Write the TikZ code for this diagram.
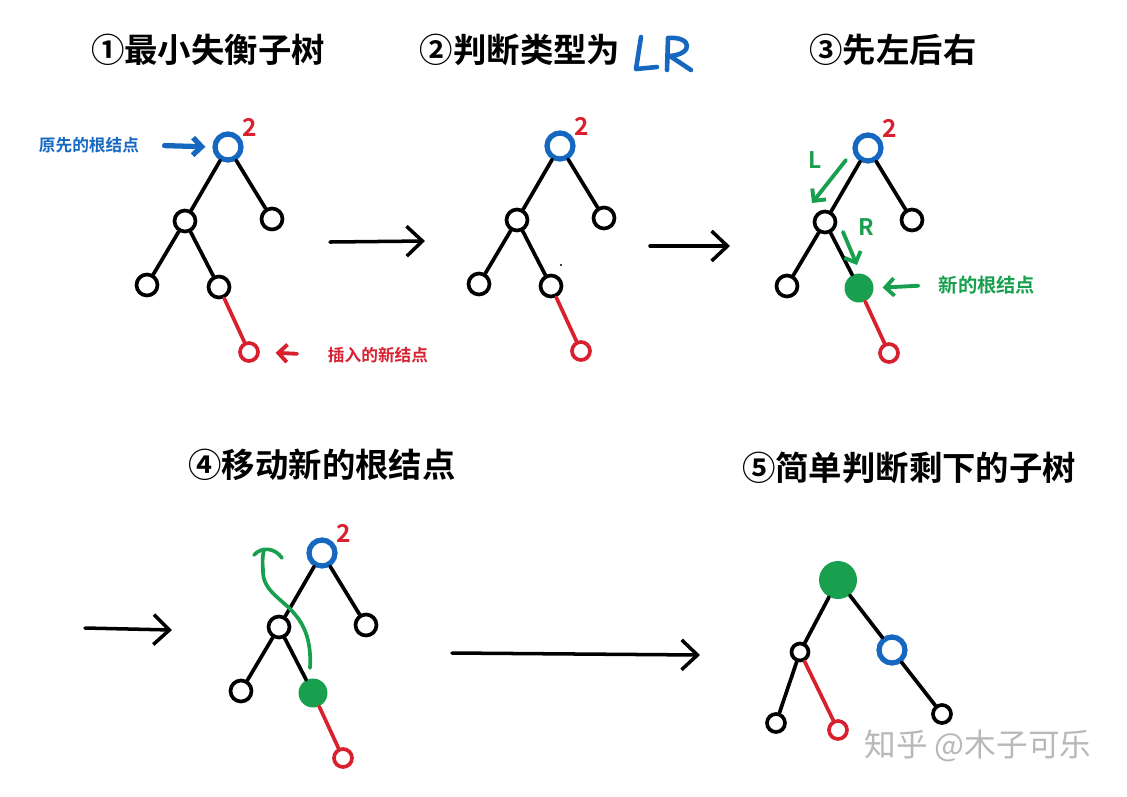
\documentclass[tikz,border=0pt]{standalone}
\usepackage{fontspec}
\setmainfont{Noto Sans CJK SC}[BoldFont={* Bold}]
\usetikzlibrary{arrows.meta}
\definecolor{rootblue}{HTML}{1567C0}
\definecolor{insred}{HTML}{D8202F}
\definecolor{newgreen}{HTML}{19A04E}
\definecolor{markgray}{HTML}{B8B8B8}

\begin{document}
\begin{tikzpicture}[x=0.02cm,y=-0.02cm,
  nd/.style={circle,draw=black,line width=2.1pt,inner sep=0pt,minimum size=0.42cm},
  oldroot/.style={nd,draw=rootblue,line width=3pt,minimum size=0.52cm},
  insnd/.style={nd,draw=insred,minimum size=0.36cm},
  newroot/.style={circle,fill=newgreen,inner sep=0pt,minimum size=0.58cm},
  edge/.style={black,line width=2.1pt,line cap=round},
  insedge/.style={edge,insred},
  bigarrow/.style={line width=2pt,line cap=round,-{Straight Barb[length=9pt,width=17pt]}},
  notearrow/.style={line width=2.2pt,line cap=round,-{Straight Barb[length=5pt,width=10pt]}},
  title/.style={font=\fontsize{19}{21}\selectfont\bfseries},
  note/.style={font=\fontsize{9.5}{11}\selectfont\bfseries},
  bal/.style={insred,inner sep=0pt,font=\fontsize{14}{14}\selectfont\bfseries},
  hand/.style={newgreen,inner sep=0pt,font=\fontsize{13}{13}\selectfont\bfseries}]
  \useasboundingbox (0,0) rectangle (1127,796);

  \node[title] (T1) at (208,50)  {①最小失衡子树};
  \node[title] (T2) at (520,50)  {②判断类型为};
  \node[title] (T3) at (893,50)  {③先左后右};
  \node[title] (T4) at (322,465) {④移动新的根结点};
  \node[title] (T5) at (909,468) {⑤简单判断剩下的子树};
  \draw[rootblue,line width=2.6pt,line cap=round,line join=round]
    (641,37)--(636,69)--(657,67)
    (667,70)--(668,38) .. controls (692,36) and (694,54) .. (670,56)--(691,70);

  \foreach \t/\dx/\dy/\mid in {1/0/0/nd,2/332/-1/nd,3/640/1/newroot,4/94/406/newroot}{
    \begin{scope}[shift={(\dx,\dy)}]
      \node[oldroot] (R\t)  at (228,147) {};
      \node[nd]      (L\t)  at (185,221) {};
      \node[nd]      (S\t)  at (272,219) {};
      \node[nd]      (LL\t) at (147,285) {};
      \node[\mid]    (LR\t) at (219,287) {};
      \node[insnd]   (N\t)  at (249,352) {};
      \node[bal]     (B\t)  at (250,127) {2};
      \draw[edge] (R\t)--(L\t) (R\t)--(S\t) (L\t)--(LL\t) (L\t)--(LR\t);
      \draw[insedge] (LR\t)--(N\t);
    \end{scope}
  }
  \fill (561,265) circle (1.2);

  \node[note,rootblue] (oldlbl) at (89,145) {原先的根结点};
  \draw[notearrow,rootblue,line width=3pt,shorten <=11pt,shorten >=4pt] (oldlbl.east)--(R1.west);
  \node[note,insred] (inslbl) at (378,355) {插入的新结点};
  \draw[notearrow,insred,shorten <=14pt,shorten >=9pt] (inslbl.west)--(N1.east);
  \node[note,newgreen,font=\fontsize{11}{12}\selectfont\bfseries] (newlbl) at (987,285) {新的根结点};
  \draw[notearrow,newgreen,shorten <=8pt,shorten >=5pt] (newlbl.west)--(LR3.east);

  \node[hand] (Ltxt) at (815,160) {L};
  \coordinate (Lfrom) at (846,160);
  \coordinate (Lto) at (812,203);
  \draw[notearrow,newgreen] (Lfrom)--(Lto);
  \node[hand] (Rtxt) at (866,227) {R};
  \coordinate (Rfrom) at (843,232);
  \coordinate (Rto) at (857,265);
  \draw[notearrow,newgreen] (Rfrom)--(Rto);

  \coordinate (mvfrom) at (310,668);
  \coordinate (mvtop) at (263,570);
  \draw[newgreen,line width=2.1pt,line cap=round]
    (mvfrom) .. controls (314,600) and (262,605) .. (mvtop) .. controls (262,560) and (263,553) .. (264,550);
  \draw[newgreen,line width=2.1pt,line cap=round]
    (254,555) .. controls (262,546) and (275,548) .. (282,558);

  \foreach \a/\xa/\ya/\xb/\yb in {1/330/242/425/241,2/650/246/730/246,3/85/628/172/630,4/452/653/700/655}{
    \coordinate (A\a s) at (\xa,\ya);
    \coordinate (A\a e) at (\xb,\yb);
    \draw[bigarrow] (A\a s)--(A\a e);
  }

  \node[newroot,minimum size=0.76cm] (R5) at (838,580) {};
  \node[nd,minimum size=0.34cm] (L5)  at (800,652) {};
  \node[oldroot]                (S5)  at (892,650) {};
  \node[nd,minimum size=0.36cm] (LL5) at (776,723) {};
  \node[insnd]                  (LR5) at (838,730) {};
  \node[nd,minimum size=0.36cm] (SR5) at (942,714) {};
  \draw[edge] (R5)--(L5) (R5)--(S5) (L5)--(LL5) (S5)--(SR5);
  \draw[insedge] (L5)--(LR5);

  \node[markgray,font=\fontsize{18}{20}\selectfont] (mark) at (978,746) {知乎 @木子可乐};
\end{tikzpicture}
\end{document}
